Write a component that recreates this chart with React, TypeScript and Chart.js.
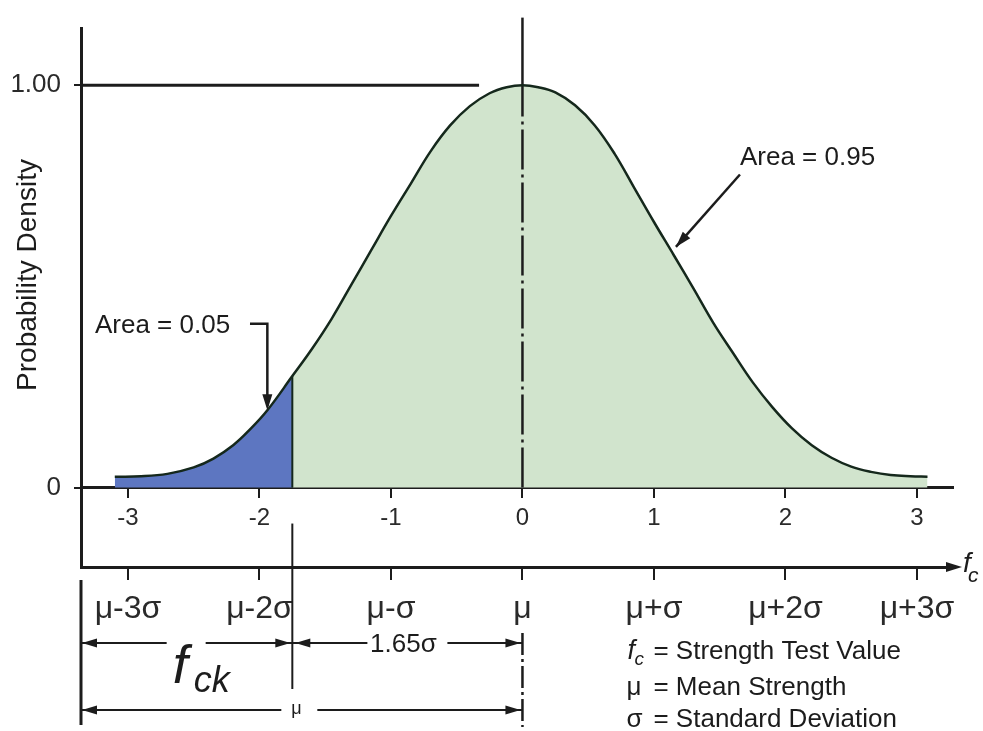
import React, { useEffect, useRef } from "react";
import { Chart, registerables } from "chart.js";

Chart.register(...registerables);

// ---------- data ----------
const sigmaTicks = [-3, -2, -1, 0, 1, 2, 3];
const sigmaTickLabels = ["-3", "-2", "-1", "0", "1", "2", "3"];
const sigmaLabels = ["μ-3σ", "μ-2σ", "μ-σ", "μ", "μ+σ", "μ+2σ", "μ+3σ"];
const yTickValues = [0, 1];
const yTickLabels = ["0", "1.00"];

// curve (x in units of σ, y relative density)
const curveX = [
  -3.1, -2.9, -2.7, -2.5, -2.35, -2.2, -2.07, -1.94, -1.75, -1.6, -1.45, -1.3, -1.15,
  -1.0, -0.85, -0.7, -0.55, -0.4, -0.25, -0.12, 0, 0.12, 0.25, 0.4, 0.55, 0.7, 0.85,
  1.0, 1.15, 1.3, 1.45, 1.6, 1.75, 1.9, 2.05, 2.2, 2.35, 2.5, 2.65, 2.8, 2.95, 3.08,
];
const curveY = [
  0.027, 0.028, 0.034, 0.05, 0.072, 0.105, 0.145, 0.192, 0.277, 0.345, 0.42, 0.505, 0.59,
  0.675, 0.755, 0.835, 0.9, 0.948, 0.98, 0.995, 1.0, 0.995, 0.982, 0.95, 0.9, 0.83, 0.745,
  0.66, 0.578, 0.495, 0.41, 0.335, 0.262, 0.2, 0.147, 0.105, 0.074, 0.052, 0.039, 0.031, 0.028, 0.027,
];
const fckX = -1.75; // characteristic strength, μ - 1.65σ (as drawn)
const peakLineEndX = -0.33;
const area05Label = "Area = 0.05";
const area95Label = "Area = 0.95";

// ---------- scale ranges ----------
const xMin = -3.357;
const xMax = 3.274;
const yMin = -0.1975;
const yMax = 1.1407;
const meanLineTop = 1.168;

// ---------- style ----------
const FAMILY = '"Liberation Sans", Arial, Helvetica, sans-serif';
const INK = "#1c1c1c";
const CURVE = "#15281c";
const BLUE = "#5d76c1";
const GREEN = "#d1e4cd";

const pts = (xs: number[], ys: number[]) => xs.map((x, i) => ({ x, y: ys[i] }));

function arrow(ctx: CanvasRenderingContext2D, x: number, y: number, angle: number, len = 15, half = 4.5) {
  ctx.save();
  ctx.translate(x, y);
  ctx.rotate(angle);
  ctx.beginPath();
  ctx.moveTo(0, 0);
  ctx.lineTo(-len, -half);
  ctx.lineTo(-len, half);
  ctx.closePath();
  ctx.fill();
  ctx.restore();
}

const overlay = {
  id: "overlay",
  afterDraw(chart: any) {
    const { ctx, chartArea: ca } = chart;
    const xs = chart.scales.x;
    const ys = chart.scales.y;
    const X = (v: number) => xs.getPixelForValue(v);
    const Y = (v: number) => ys.getPixelForValue(v);
    ctx.save();
    ctx.strokeStyle = INK;
    ctx.fillStyle = INK;
    const line = (x1: number, y1: number, x2: number, y2: number, w = 2, dash: number[] = []) => {
      ctx.save();
      ctx.lineWidth = w;
      ctx.setLineDash(dash);
      ctx.beginPath();
      ctx.moveTo(x1, y1);
      ctx.lineTo(x2, y2);
      ctx.stroke();
      ctx.restore();
    };
    const text = (s: string, x: number, y: number, font: string, align: CanvasTextAlign = "left", base: CanvasTextBaseline = "alphabetic") => {
      ctx.font = font;
      ctx.textAlign = align;
      ctx.textBaseline = base;
      ctx.fillText(s, x, y);
    };

    const xb = X(fckX);
    const x0 = X(0);

    // left line continuing below lower axis
    line(ca.left, ca.bottom + 13, ca.left, ca.bottom + 158, 3);
    // f_ck boundary line below the chart
    line(xb, Y(0) + 36, xb, ca.bottom + 122, 2);
    // mean line below lower axis
    line(x0, ca.bottom + 66, x0, ca.bottom + 160, 2.5, [22, 4, 3, 4]);

    // dimension row 1
    const r1 = ca.bottom + 76;
    const midL = (ca.left + xb) / 2;
    line(ca.left, r1, midL - 20, r1);
    line(midL + 19, r1, xb, r1);
    arrow(ctx, ca.left + 1, r1, Math.PI);
    arrow(ctx, xb - 2, r1, 0);
    const midR = (xb + x0) / 2;
    line(xb, r1, midR - 40, r1);
    line(midR + 40, r1, x0, r1);
    arrow(ctx, xb + 3, r1, Math.PI);
    arrow(ctx, x0 - 2, r1, 0);
    text("1.65σ", midR - 4, r1 + 2, `26px ${FAMILY}`, "center", "middle");
    text("f", midL - 14, r1 + 40, `italic 54px ${FAMILY}`);
    text("ck", midL + 7, r1 + 49, `italic 36px ${FAMILY}`);

    // dimension row 2
    const r2 = ca.bottom + 143;
    line(ca.left, r2, xb - 11, r2);
    line(xb + 25, r2, x0, r2);
    arrow(ctx, ca.left + 1, r2, Math.PI);
    arrow(ctx, x0 - 2, r2, 0);
    text("μ", xb + 4, r2 + 4, `18px ${FAMILY}`, "center");

    // lower axis arrow and label
    arrow(ctx, ca.right + 9, ca.bottom, 0, 16, 5);
    text("f", ca.right + 10, ca.bottom + 5, `italic 28px ${FAMILY}`);
    text("c", ca.right + 15, ca.bottom + 15, `italic 21px ${FAMILY}`);

    // key
    const kx = x0 + 104;
    const kx2 = x0 + 131;
    text("f", kx + 1, ca.bottom + 92, `italic 27px ${FAMILY}`);
    text("c", kx + 8, ca.bottom + 98, `italic 19px ${FAMILY}`);
    text("= Strength Test Value", kx2, ca.bottom + 92, `26px ${FAMILY}`);
    text("μ", kx, ca.bottom + 128, `26px ${FAMILY}`);
    text("= Mean Strength", kx2, ca.bottom + 128, `26px ${FAMILY}`);
    text("σ", kx, ca.bottom + 160, `26px ${FAMILY}`);
    text("= Standard Deviation", kx2, ca.bottom + 160, `26px ${FAMILY}`);

    // Area = 0.95 annotation
    text(area95Label, X(1.654), Y(0.802), `26px ${FAMILY}`);
    const ax1 = X(1.654), ay1 = Y(0.778), ax2 = X(1.167), ay2 = Y(0.598);
    line(ax1, ay1, ax2, ay2, 2.5);
    arrow(ctx, ax2, ay2, Math.atan2(ay2 - ay1, ax2 - ax1), 16, 5);

    // Area = 0.05 annotation
    text(area05Label, X(-3.251), Y(0.383), `26px ${FAMILY}`);
    const tipX = -1.94;
    const tipY = curveY[curveX.indexOf(tipX)] ?? 0.198;
    ctx.save();
    ctx.lineWidth = 2.5;
    ctx.beginPath();
    ctx.moveTo(X(-2.072), Y(0.407));
    ctx.lineTo(X(tipX), Y(0.407));
    ctx.lineTo(X(tipX), Y(tipY) - 4);
    ctx.stroke();
    ctx.restore();
    arrow(ctx, X(tipX), Y(tipY), Math.PI / 2, 16, 5);

    // y title
    ctx.save();
    ctx.translate(28, 275);
    ctx.rotate(-Math.PI / 2);
    text("Probability Density", 0, 0, `28px ${FAMILY}`, "center", "middle");
    ctx.restore();

    ctx.restore();
  },
};

export default function App() {
  const ref = useRef<HTMLCanvasElement>(null);
  useEffect(() => {
    Chart.defaults.font.family = FAMILY;
    Chart.defaults.color = "#222";
    const bIdx = curveX.indexOf(fckX);
    const bluePts = pts(curveX.slice(0, bIdx + 1), curveY.slice(0, bIdx + 1));
    const greenPts = pts(curveX.slice(bIdx), curveY.slice(bIdx));
    const chart = new Chart(ref.current!, {
      type: "line",
      data: {
        datasets: [
          { data: pts(curveX, curveY), borderColor: CURVE, borderWidth: 2.5, fill: false, pointRadius: 0, tension: 0.4, order: 1 },
          { data: [{ x: fckX, y: 0 }, { x: fckX, y: curveY[bIdx] }], borderColor: CURVE, borderWidth: 2, pointRadius: 0, fill: false, order: 2 },
          { data: [{ x: xMin, y: 1 }, { x: peakLineEndX, y: 1 }], borderColor: INK, borderWidth: 3, pointRadius: 0, fill: false, order: 2 },
          { data: [{ x: 0, y: 0 }, { x: 0, y: 1 }], borderColor: INK, borderWidth: 2.5, borderDash: [40, 5, 3, 5], pointRadius: 0, fill: false, order: 2 },
          { data: [{ x: 0, y: 1 }, { x: 0, y: meanLineTop }], borderColor: INK, borderWidth: 2.5, pointRadius: 0, fill: false, clip: false, order: 2 },
          { data: bluePts, borderWidth: 0, borderColor: BLUE, backgroundColor: BLUE, fill: "origin", pointRadius: 0, tension: 0.4, order: 10 },
          { data: greenPts, borderWidth: 0, borderColor: GREEN, backgroundColor: GREEN, fill: "origin", pointRadius: 0, tension: 0.4, order: 10 },
        ],
      } as any,
      options: {
        animation: false,
        responsive: false,
        events: [],
        layout: { padding: { left: 0, top: 25, right: 30, bottom: 104 } },
        plugins: { legend: { display: false }, tooltip: { enabled: false }, title: { display: false } },
        scales: {
          x: {
            type: "linear",
            min: xMin,
            max: xMax,
            position: { y: 0 } as any,
            z: 1,
            afterBuildTicks: (s: any) => { s.ticks = sigmaTicks.map((v) => ({ value: v })); },
            afterFit: (s: any) => { s.height = 0; },
            border: { display: true, color: INK, width: 3 },
            grid: { drawOnChartArea: false, drawTicks: true, tickLength: 9, color: INK, lineWidth: 2 },
            ticks: {
              font: { size: 24 },
              color: "#2a2a2a",
              padding: 7,
              maxRotation: 0,
              autoSkip: false,
              callback: (v: any) => sigmaTickLabels[sigmaTicks.indexOf(Number(v))] ?? "",
            },
          },
          x2: {
            type: "linear",
            axis: "x",
            min: xMin,
            max: xMax,
            position: "bottom",
            afterBuildTicks: (s: any) => { s.ticks = sigmaTicks.map((v) => ({ value: v })); },
            afterFit: (s: any) => { s.height = 60; },
            border: { display: true, color: INK, width: 3 },
            grid: { drawOnChartArea: false, drawTicks: true, tickLength: 13, color: INK, lineWidth: 2 },
            ticks: {
              font: { size: 32 },
              color: "#2a2a2a",
              padding: 10,
              maxRotation: 0,
              autoSkip: false,
              callback: (v: any) => sigmaLabels[sigmaTicks.indexOf(Number(v))] ?? "",
            },
          },
          y: {
            type: "linear",
            min: yMin,
            max: yMax,
            afterBuildTicks: (s: any) => { s.ticks = yTickValues.map((v) => ({ value: v })); },
            afterFit: (s: any) => { s.width = 81; },
            border: { display: true, color: INK, width: 3 },
            grid: { drawOnChartArea: false, drawTicks: true, tickLength: 7, color: INK, lineWidth: 2 },
            ticks: {
              font: { size: 26 },
              color: "#2a2a2a",
              padding: 13,
              callback: (v: any) => yTickLabels[yTickValues.indexOf(Number(v))] ?? "",
            },
          },
        } as any,
      },
      plugins: [overlay],
    });
    return () => chart.destroy();
  }, []);
  return (
    <div style={{ position: "absolute", left: 0, top: 0, width: 983, height: 731, background: "#fff" }}>
      <canvas ref={ref} width={983} height={731} style={{ display: "block" }} />
    </div>
  );
}
